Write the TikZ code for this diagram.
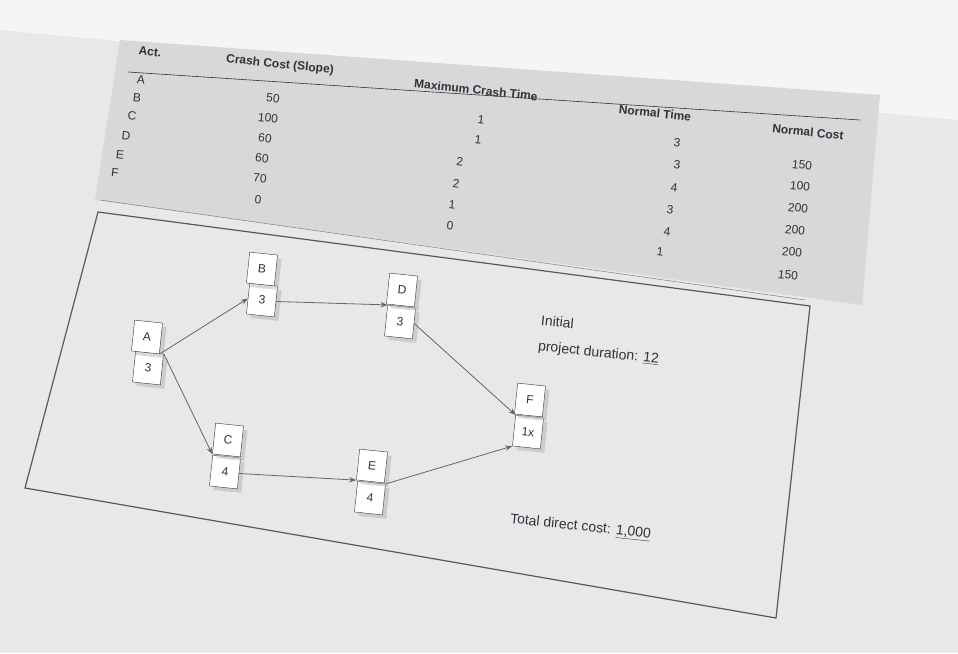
\documentclass[tikz,border=0pt]{standalone}
\usepackage{fontspec}
\setmainfont{Liberation Sans}
\usetikzlibrary{arrows.meta,shadows}
\definecolor{paper}{RGB}{232,232,234}
\definecolor{boxbg}{RGB}{216,216,218}
\definecolor{ink}{RGB}{50,50,55}
\tikzset{
 t/.style={rotate=-6,text=ink,font=\fontsize{12}{14}\selectfont,inner sep=0pt},
 h/.style={t,font=\bfseries\fontsize{12}{14}\selectfont},
 cell/.style={draw=ink,fill=white,minimum width=28pt,minimum height=31pt,inner sep=0pt,rotate=-6,text=ink,font=\fontsize{12}{14}\selectfont,
   drop shadow={shadow xshift=4pt,shadow yshift=-4pt,fill=gray!60}},
 arr/.style={draw=gray!80!black,line width=0.8pt,-{Stealth[length=7pt]}}
}
\begin{document}
\begin{tikzpicture}[x=1pt,y=-1pt]
\useasboundingbox (0,0) rectangle (958,653);
\fill[paper] (0,0) rectangle (958,653);
\fill[white!92!gray] (0,0) -- (958,0) -- (958,120) -- (0,30) -- cycle;
% table area
\fill[boxbg] (120,40) -- (880,95) -- (862,305) -- (95,200) -- cycle;
\draw[ink,line width=0.6pt] (128,72) -- (860,120);
\draw[gray,line width=0.5pt] (100,200) -- (805,300);
% diagram box
\draw[gray!70!black,line width=1.2pt,fill=paper] (98,212) -- (810,306) -- (776,618) -- (25,488) -- cycle;
% headers
\node[h] at (150,52) {Act.};
\node[h] at (280,65) {Crash Cost (Slope)};
\node[h] at (476,90) {Maximum Crash Time};
\node[h] at (655,113) {Normal Time};
\node[h] at (808,132) {Normal Cost};
% act letters
\foreach \l/\x/\y in {A/141/80,B/137/98,C/132/116,D/126/136,E/120/155,F/115/173}
 \node[t] at (\x,\y) {\l};
\foreach \v/\x/\y in {50/273/98,100/268/118,60/265/138,60/262/158,70/260/178,0/258/200}
 \node[t] at (\x,\y) {\v};
\foreach \v/\x/\y in {1/481/120,1/478/140,2/460/162,2/456/184,1/452/205,0/450/226}
 \node[t] at (\x,\y) {\v};
\foreach \v/\x/\y in {3/677/143,3/677/165,4/674/188,3/670/210,4/667/232,1/660/252}
 \node[t] at (\x,\y) {\v};
\foreach \v/\x/\y in {150/802/165,100/800/186,200/798/208,200/795/230,200/792/252,150/788/275}
 \node[t] at (\x,\y) {\v};
% network
\node[cell] (A2) at (148,368) {3}; \node[cell] (A1) at (147,337) {A};
\node[cell] (B2) at (262,300) {3}; \node[cell] (B1) at (262,269) {B};
\node[cell] (D2) at (400,322) {3}; \node[cell] (D1) at (402,290) {D};
\node[cell] (C2) at (225,472) {4}; \node[cell] (C1) at (228,440) {C};
\node[cell] (E2) at (370,498) {4}; \node[cell] (E1) at (372,466) {E};
\node[cell] (F2) at (528,432) {1x}; \node[cell] (F1) at (530,400) {F};
\draw[arr] (A1.south east) -- (B2.west);
\draw[arr] (A2.north east) -- (C1.south west);
\draw[arr] (B2.east) -- (D2.north west);
\draw[arr] (D2.east) -- (F2.north west);
\draw[arr] (C2.east) -- (E1.south west);
\draw[arr] (E2.north east) -- (F2.south west);
% labels
\node[t,anchor=west,font=\fontsize{14}{16}\selectfont] (ini) at (541,320) {Initial};
\node[t,anchor=west,font=\fontsize{14}{16}\selectfont] (pd) at (538,347) {project duration: \underline{12}};
\node[t,anchor=west,font=\fontsize{14}{16}\selectfont] (tc) at (510,520) {Total direct cost: \underline{1,000}};
\end{tikzpicture}
\end{document}
